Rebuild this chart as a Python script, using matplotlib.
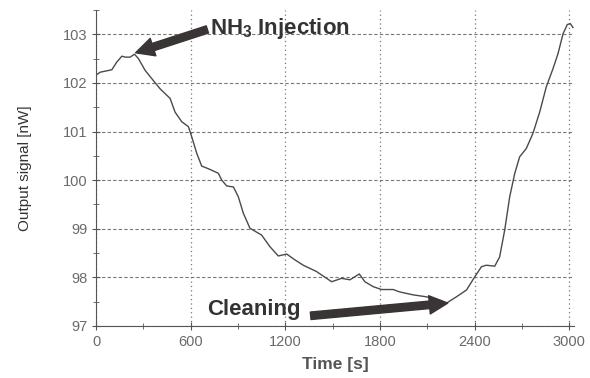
import matplotlib.pyplot as plt
from matplotlib.ticker import MultipleLocator

# output signal trace read along the run
time_s = [0, 25, 99, 131, 163, 184, 215, 243, 268, 310, 352, 405, 469, 500,
          543, 585, 606, 638, 669, 722, 775, 796, 828, 870, 901, 933, 975,
          1049, 1102, 1155, 1208, 1260, 1313, 1397, 1493, 1556, 1609, 1668,
          1704, 1756, 1809, 1883, 1925, 2010, 2094, 2179, 2221, 2284, 2348,
          2400, 2443, 2474, 2527, 2558, 2590, 2622, 2654, 2685, 2727, 2769,
          2812, 2854, 2896, 2928, 2960, 2987, 3006, 3023]
signal_nw = [102.16, 102.22, 102.27, 102.43, 102.55, 102.53, 102.53, 102.59,
             102.50, 102.26, 102.09, 101.88, 101.68, 101.40, 101.20, 101.10,
             100.89, 100.55, 100.29, 100.22, 100.14, 100.00, 99.88, 99.86,
             99.66, 99.32, 99.01, 98.87, 98.63, 98.44, 98.48, 98.36, 98.25,
             98.12, 97.91, 97.98, 97.95, 98.07, 97.91, 97.81, 97.75, 97.75,
             97.70, 97.64, 97.60, 97.53, 97.47, 97.60, 97.74, 98.01, 98.22,
             98.25, 98.23, 98.42, 98.97, 99.66, 100.14, 100.48, 100.65,
             100.96, 101.40, 101.92, 102.29, 102.60, 103.01, 103.20, 103.22,
             103.14]

x_ticks = [0, 600, 1200, 1800, 2400, 3000]
y_ticks = [97, 98, 99, 100, 101, 102, 103]

gray = '#555555'
plt.rcParams['font.family'] = ['Liberation Sans', 'DejaVu Sans']
plt.rcParams['mathtext.fontset'] = 'custom'
plt.rcParams['mathtext.rm'] = 'Liberation Sans'
plt.rcParams['mathtext.bf'] = 'Liberation Sans:bold'

fig = plt.figure(figsize=(5.9, 3.78), dpi=100)
ax = fig.add_axes([0.163, 0.1376, 0.81, 0.836])

ax.plot(time_s, signal_nw, color='#4a4a4a', lw=1.0)

ax.set_xlim(0, 3030)
ax.set_ylim(97, 103.5)
ax.set_xticks(x_ticks)
ax.set_yticks(y_ticks)
ax.xaxis.set_minor_locator(MultipleLocator(300))
ax.yaxis.set_minor_locator(MultipleLocator(0.5))
ax.tick_params(which='both', direction='inout', colors=gray, labelsize=10.5,
               labelcolor='#6a6a6a')
ax.tick_params(which='major', length=6)
ax.tick_params(which='minor', length=4)

for s in ['top', 'right']:
    ax.spines[s].set_visible(False)
for s in ['left', 'bottom']:
    ax.spines[s].set_color(gray)

# dotted verticals, dashed horizontals
ax.xaxis.grid(True, linestyle=(0, (1, 2.5)), color='#777777', lw=0.9)
ax.yaxis.grid(True, linestyle=(0, (3, 2)), color='#777777', lw=0.8)

ax.set_xlabel('Time [s]', fontsize=12.5, fontweight='bold', color=gray, labelpad=6)
ax.set_ylabel('Output signal [nW]', fontsize=11, color='#333333', labelpad=22)

arrow = dict(arrowstyle='simple,head_length=1.1,head_width=1.1,tail_width=0.45',
             color='#3a3535', mutation_scale=12, shrinkA=0, shrinkB=0)
ax.annotate('', xy=(250, 102.62), xytext=(705, 103.1), arrowprops=arrow)
ax.text(722, 103.12, r'NH$_\mathbf{3}$ Injection', fontsize=16, fontweight='bold',
        color='#333333', va='center', ha='left')

ax.annotate('', xy=(2229, 97.47), xytext=(1360, 97.21), arrowprops=arrow)
ax.text(703, 97.33, 'Cleaning', fontsize=16, fontweight='bold',
        color='#333333', va='center', ha='left')

fig.savefig('out.png', dpi=100)
